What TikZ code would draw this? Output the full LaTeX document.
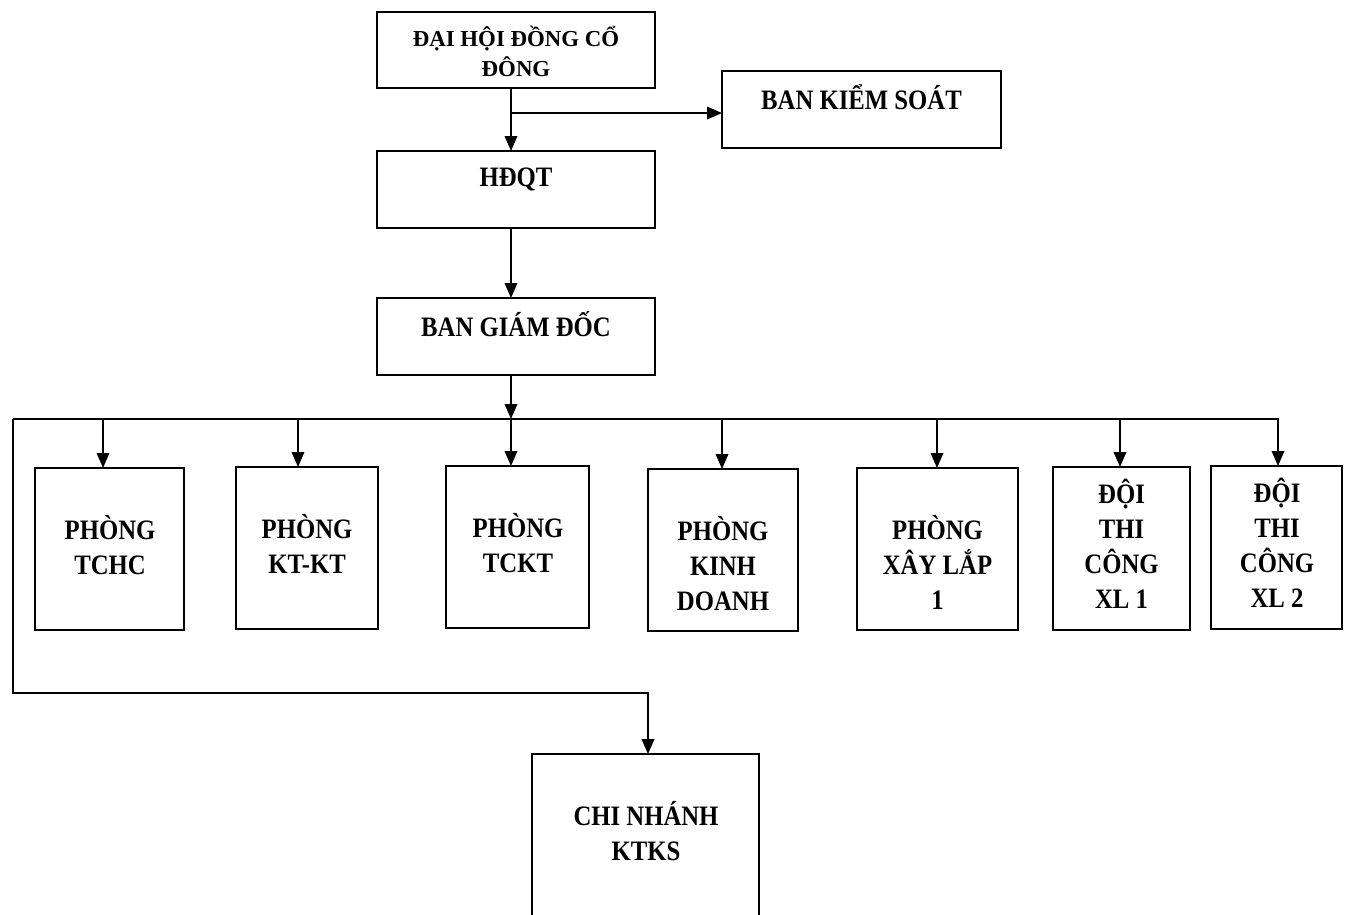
\documentclass[tikz,border=0pt]{standalone}
\usepackage{fontspec}
\setmainfont{Liberation Serif}
\newfontfamily\nf{Liberation Serif}[FakeStretch=0.88]
\usetikzlibrary{arrows.meta}
\begin{document}
\begin{tikzpicture}[x=0.02cm,y=-0.02cm,
  >={Triangle[length=0.3cm,width=0.25cm]},
  bx/.style={draw, line width=1pt, inner sep=0pt, outer sep=0pt},
  ln/.style={line width=1pt},
  lbl/.style={align=center, inner sep=0pt, font=\nf\bfseries\fontsize{16}{19.9}\selectfont},
  lbltop/.style={align=center, inner sep=0pt, font=\bfseries\fontsize{13}{17}\selectfont}]
\path[use as bounding box] (0,0) rectangle (1349,914);
\clip (0,0) rectangle (1349,914);
\fill[white] (0,0) rectangle (1349,914);

% boxes
\node[bx, minimum width=5.56cm, minimum height=1.52cm] (dh) at (516,50) {};
\node[bx, minimum width=5.58cm, minimum height=1.54cm] (bks) at (861.5,109.5) {};
\node[bx, minimum width=5.56cm, minimum height=1.54cm] (hd) at (516,189.5) {};
\node[bx, minimum width=5.56cm, minimum height=1.54cm] (bgd) at (516,336.5) {};
\node[bx, minimum width=2.98cm, minimum height=3.24cm] (tchc) at (109.5,549) {};
\node[bx, minimum width=2.84cm, minimum height=3.24cm] (ktkt) at (307,548) {};
\node[bx, minimum width=2.86cm, minimum height=3.24cm] (tckt) at (517.5,547) {};
\node[bx, minimum width=3.00cm, minimum height=3.24cm] (kd) at (723,550) {};
\node[bx, minimum width=3.22cm, minimum height=3.24cm] (xl) at (937.5,549) {};
\node[bx, minimum width=2.74cm, minimum height=3.26cm] (d1) at (1121.5,548.5) {};
\node[bx, minimum width=2.62cm, minimum height=3.26cm] (d2) at (1276.5,547.5) {};
\node[bx, minimum width=4.54cm, minimum height=3.52cm] (cn) at (645.5,842) {};

% labels
\node[lbltop] (tdh) at (516,51) {ĐẠI HỘI ĐỒNG CỔ\\ĐÔNG};
\node[lbl] (tbks) at (861.5,97) {BAN KIỂM SOÁT};
\node[lbl] (thd) at (516,179) {HĐQT};
\node[lbl] (tbgd) at (516,324) {BAN GIÁM ĐỐC};
\node[lbl] (ttchc) at (110,545) {PHÒNG\\TCHC};
\node[lbl] (tktkt) at (307,544) {PHÒNG\\KT-KT};
\node[lbl] (ttckt) at (518,543) {PHÒNG\\TCKT};
\node[lbl] (tkd) at (723,564) {PHÒNG\\KINH\\DOANH};
\node[lbl] (txl) at (937.5,562) {PHÒNG\\XÂY LẮP\\1};
\node[lbl] (td1) at (1121.5,544) {ĐỘI\\THI\\CÔNG\\XL 1};
\node[lbl] (td2) at (1277,543) {ĐỘI\\THI\\CÔNG\\XL 2};
\node[lbl] (tcn) at (646,831) {CHI NHÁNH\\KTKS};

% connectors
\coordinate (sp) at (511,0);
\coordinate (j1) at (511,113);
\draw[ln,->] (sp |- dh.south) -- (sp |- hd.north);
\draw[ln,->] (j1) -- (j1 -| bks.west);
\draw[ln,->] (sp |- hd.south) -- (sp |- bgd.north);
\coordinate (busL) at (13,419);
\coordinate (busR) at (1278,419);
\coordinate (busM) at (511,419);
\draw[ln,->] (sp |- bgd.south) -- (busM);
\draw[ln,->] (busM) -- (busM |- tckt.north);
\draw[ln,->] (busL) -- (busR) -- (busR |- d2.north);
\coordinate (a1) at (103,419);
\coordinate (a2) at (298,419);
\coordinate (a4) at (722,419);
\coordinate (a5) at (937,419);
\coordinate (a6) at (1120,419);
\draw[ln,->] (a1) -- (a1 |- tchc.north);
\draw[ln,->] (a2) -- (a2 |- ktkt.north);
\draw[ln,->] (a4) -- (a4 |- kd.north);
\draw[ln,->] (a5) -- (a5 |- xl.north);
\draw[ln,->] (a6) -- (a6 |- d1.north);
\coordinate (lb) at (13,693);
\coordinate (cx) at (648,693);
\draw[ln,->] (busL) -- (lb) -- (cx) -- (cx |- cn.north);
\end{tikzpicture}
\end{document}
